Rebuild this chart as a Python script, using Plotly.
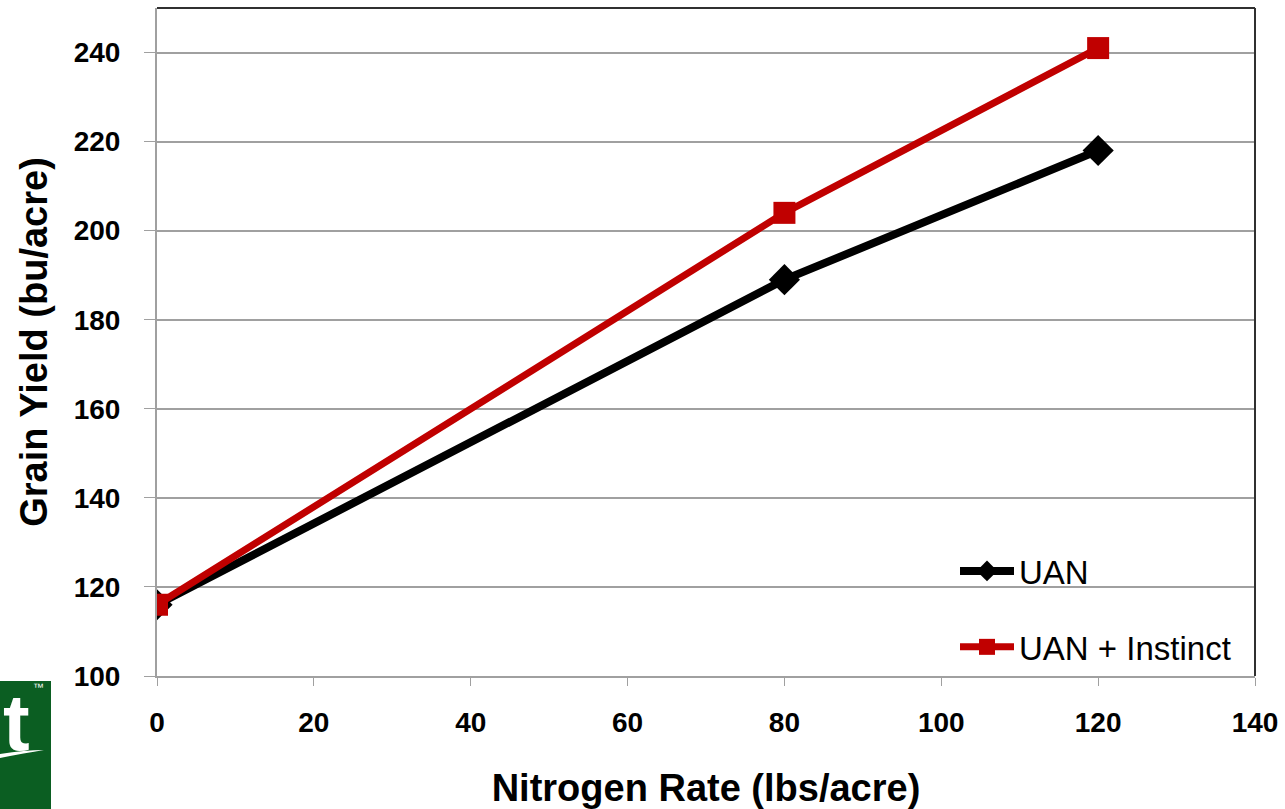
import plotly.graph_objects as go

nitrogen = [0, 80, 120]
uan = [116, 189, 218]
uan_instinct = [116, 204, 241]
series_names = ["UAN", "UAN + Instinct"]
y_ticks = [100, 120, 140, 160, 180, 200, 220, 240]
x_ticks = [0, 20, 40, 60, 80, 100, 120, 140]

fig = go.Figure()
fig.add_trace(go.Scatter(
    x=nitrogen, y=uan, name=series_names[0], mode="lines+markers",
    line=dict(color="#000000", width=8),
    marker=dict(symbol="diamond", size=24, color="#000000"),
    legendgroup="a",
))
fig.add_trace(go.Scatter(
    x=nitrogen, y=uan_instinct, name=series_names[1], mode="lines+markers",
    line=dict(color="#C00000", width=7),
    marker=dict(symbol="square", size=22, color="#C00000"),
    legendgroup="b",
))

font_b = "Liberation Sans, Arial, sans-serif"

fig.update_layout(
    width=1285, height=809,
    margin=dict(l=157, r=30, t=8, b=133),
    paper_bgcolor="white", plot_bgcolor="white",
    showlegend=True,
    legend=dict(
        x=(955 - 157) / 1098, y=(676 - 609) / 668, xanchor="left", yanchor="middle",
        font=dict(family=font_b, size=33, color="#000000"),
        bgcolor="rgba(0,0,0,0)", tracegroupgap=30,
        itemwidth=54,
    ),
    xaxis=dict(
        range=[0, 140], tickvals=x_ticks, showgrid=False,
        showline=True, linecolor="#A0A0A0", linewidth=2,
        ticks="outside", ticklen=8, tickcolor="#A0A0A0",
        ticklabelstandoff=12, automargin=False,
        tickfont=dict(family=font_b, size=28, color="#000000", weight="bold"),
        title=dict(text="<b>Nitrogen Rate (lbs/acre)</b>",
                   font=dict(family=font_b, size=38, color="#000000"), standoff=45),
        mirror=False, zeroline=False,
    ),
    yaxis=dict(
        range=[100, 250], tickvals=y_ticks, showgrid=True, gridcolor="#A0A0A0", gridwidth=2,
        showline=True, linecolor="#A0A0A0", linewidth=2,
        ticks="outside", ticklen=11, tickcolor="#A0A0A0",
        ticklabelstandoff=18, automargin=False,
        tickfont=dict(family=font_b, size=28, color="#000000", weight="bold"),
        title=dict(text="<b>Grain Yield (bu/acre)</b>",
                   font=dict(family=font_b, size=38, color="#000000"), standoff=14),
        zeroline=False,
    ),
)

# plot border (top and right dark)
fig.add_shape(type="line", xref="paper", yref="paper", x0=0, x1=1, y0=1, y1=1,
              line=dict(color="#303030", width=2))
fig.add_shape(type="line", xref="paper", yref="paper", x0=1, x1=1, y0=0, y1=1,
              line=dict(color="#303030", width=2))

# partial logo bottom-left
def px_x(p):
    return (p - 157) / 1098

def px_y(p):
    return (676 - p) / 668

fig.add_shape(type="rect", xref="paper", yref="paper",
              x0=px_x(-2), x1=px_x(51), y0=px_y(812), y1=px_y(681),
              fillcolor="#0B5E22", line=dict(width=0), layer="above")
fig.add_annotation(xref="paper", yref="paper", x=px_x(2), y=px_y(722),
                   xanchor="left", yanchor="middle", borderpad=0,
                   text="<b>t</b>", showarrow=False,
                   font=dict(family=font_b, size=80, color="white"))
fig.add_shape(type="path", xref="paper", yref="paper",
              path=f"M {px_x(0)} {px_y(754)} Q {px_x(25)} {px_y(750)} {px_x(44)} {px_y(750)} Q {px_x(25)} {px_y(753)} {px_x(0)} {px_y(758)} Z",
              fillcolor="white", line=dict(width=0), layer="above")
fig.add_annotation(xref="paper", yref="paper", x=px_x(31), y=px_y(687),
                   xanchor="left", yanchor="middle",
                   text="™", showarrow=False,
                   font=dict(family=font_b, size=11, color="white"))

fig.write_html("out.html")
